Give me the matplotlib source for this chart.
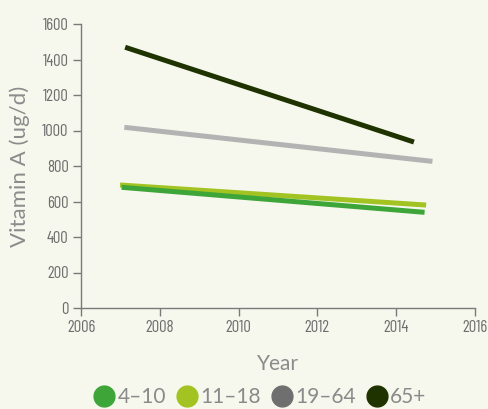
import matplotlib
matplotlib.use("Agg")
import matplotlib.pyplot as plt
from matplotlib.lines import Line2D

# Vitamin A intake by age group
groups = ["4–10", "11–18", "19–64", "65+"]
years = {
    "4–10": [2007.03, 2014.72],
    "11–18": [2006.99, 2014.76],
    "19–64": [2007.10, 2014.92],
    "65+": [2007.12, 2014.45],
}
intake = {
    "4–10": [680, 539],
    "11–18": [693, 580],
    "19–64": [1018, 826],
    "65+": [1469, 935],
}
x_ticks = [2006, 2008, 2010, 2012, 2014, 2016]
y_ticks = [0, 200, 400, 600, 800, 1000, 1200, 1400, 1600]

line_colors = {"4–10": "#3ea638", "11–18": "#a2c321", "19–64": "#b3b3b3", "65+": "#1f3300"}
legend_colors = {"4–10": "#3ea638", "11–18": "#a2c321", "19–64": "#6f6f6f", "65+": "#1f3300"}

bg = "#f6f8ed"
axis_col = "#7a7a7a"

tick_prop = dict(family=["Barlow Condensed", "DejaVu Sans"], weight=400, size=12)
label_font = ["Lato", "DejaVu Sans"]

fig = plt.figure(figsize=(4.89, 4.09), dpi=100, facecolor=bg)
ax = fig.add_axes([81 / 489, 101 / 409, (475 - 81) / 489, (308 - 24) / 409])
ax.set_facecolor(bg)

for g in ["11–18", "4–10", "19–64", "65+"]:
    ax.plot(years[g], intake[g], color=line_colors[g], lw=3.6, solid_capstyle="butt")

ax.set_xlim(2006, 2016)
ax.set_ylim(0, 1600)
ax.set_xticks(x_ticks)
ax.set_yticks(y_ticks)
ax.set_xticklabels([str(t) for t in x_ticks], color="#6e6e6e", **tick_prop)
ax.set_yticklabels([str(t) for t in y_ticks], color="#6e6e6e", **tick_prop)

for s in ["top", "right"]:
    ax.spines[s].set_visible(False)
for s in ["left", "bottom"]:
    ax.spines[s].set_color(axis_col)
    ax.spines[s].set_linewidth(1.0)
ax.tick_params(axis="both", direction="out", length=6, width=1.0, color=axis_col, pad=3)

ax.set_ylabel("Vitamin A (ug/d)", family=label_font, fontweight="normal", fontsize=16,
              color="#8c8c8c", labelpad=9)
ax.set_xlabel("Year", family=label_font, fontweight="normal", fontsize=15,
              color="#8c8c8c", labelpad=13)

handles = [
    Line2D([], [], marker="o", linestyle="none", markersize=15,
           markerfacecolor=legend_colors[g], markeredgecolor=legend_colors[g])
    for g in groups
]
leg = fig.legend(handles, groups, loc="center", bbox_to_anchor=(260 / 489, 1 - 397 / 409),
                 ncol=4, frameon=False, handletextpad=0.15, columnspacing=0.5,
                 handlelength=1.0, prop={"family": label_font, "weight": "normal", "size": 15})
for t in leg.get_texts():
    t.set_color("#8a8a8a")

fig.savefig("out.png", dpi=100, facecolor=bg)
